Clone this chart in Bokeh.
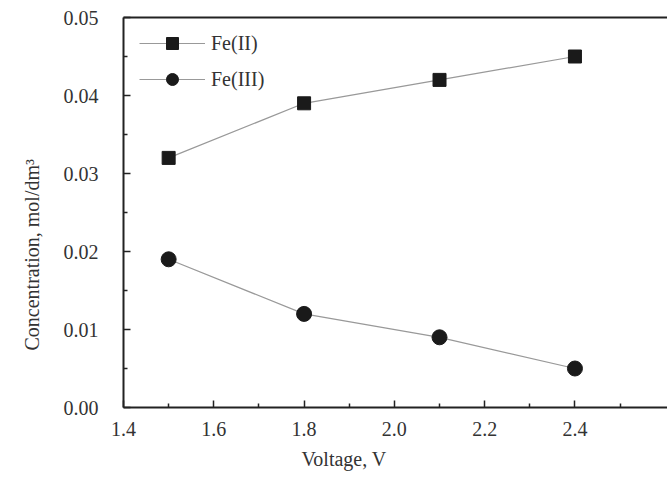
from bokeh.plotting import figure
from bokeh.models import Range1d, LinearAxis, FixedTicker, Legend, LegendItem, Title
from bokeh.embed import file_html
from bokeh.resources import INLINE

voltage = [1.5, 1.8, 2.1, 2.4]
fe2 = [0.032, 0.039, 0.042, 0.045]
fe3 = [0.019, 0.012, 0.009, 0.005]
x_ticks = [1.4, 1.6, 1.8, 2.0, 2.2, 2.4]
y_ticks = [0.00, 0.01, 0.02, 0.03, 0.04, 0.05]

FONT = "Liberation Serif"
AX = "#222222"
TXT = "#333333"

p = figure(width=667, height=477, output_backend="svg", toolbar_location=None,
           x_range=Range1d(1.4, 2.605), y_range=Range1d(0.0, 0.05),
           min_border_left=122, min_border_right=0, min_border_top=17, min_border_bottom=70)
p.outline_line_color = None
p.grid.visible = False
p.background_fill_color = "white"

for ax in (p.xaxis[0], p.yaxis[0]):
    ax.axis_line_color = AX
    ax.axis_line_width = 2
    ax.major_tick_line_color = AX
    ax.minor_tick_line_color = AX
    ax.major_tick_line_width = 1.5
    ax.minor_tick_line_width = 1.5
    ax.major_tick_in = 7
    ax.major_tick_out = 0
    ax.minor_tick_in = 4
    ax.minor_tick_out = 0
    ax.major_label_text_font = FONT
    ax.major_label_text_font_size = "20px"
    ax.major_label_text_color = TXT

p.xaxis.ticker = FixedTicker(ticks=x_ticks, minor_ticks=[1.5, 1.7, 1.9, 2.1, 2.3, 2.5])
p.yaxis.ticker = FixedTicker(ticks=y_ticks, minor_ticks=[0.005, 0.015, 0.025, 0.035, 0.045])
p.xaxis.major_label_overrides = {t: f"{t:.1f}" for t in x_ticks}
p.yaxis.major_label_overrides = {t: f"{t:.2f}" for t in y_ticks}
p.xaxis.major_label_standoff = 14
p.yaxis.major_label_standoff = 25

top = LinearAxis(ticker=FixedTicker(ticks=[]), axis_line_color=AX, axis_line_width=2,
                 major_tick_line_color=None, minor_tick_line_color=None,
                 major_label_text_font_size="0px")
p.add_layout(top, "above")

l1 = p.line(voltage, fe2, line_color="#999999", line_width=1.2)
m1 = p.scatter(voltage, fe2, marker="square", size=13, fill_color="#1a1a1a", line_color="#1a1a1a")
l2 = p.line(voltage, fe3, line_color="#999999", line_width=1.2)
m2 = p.scatter(voltage, fe3, marker="circle", size=15, fill_color="#1a1a1a", line_color="#1a1a1a")

legend = Legend(items=[LegendItem(label="Fe(II)", renderers=[l1, m1]),
                       LegendItem(label="Fe(III)", renderers=[l2, m2])],
                location=(16, 313), border_line_color=None, background_fill_alpha=0,
                label_text_font=FONT, label_text_font_size="20px", label_text_color=TXT,
                glyph_width=66, glyph_height=30, spacing=6, label_standoff=6,
                padding=8, margin=0)
p.add_layout(legend, "center")

xlab = Title(text="Voltage, V", align="left", offset=178, text_font=FONT,
             text_font_size="20px", text_color=TXT, text_font_style="normal", standoff=14)
ylab = Title(text="Concentration, mol/dm\u00b3", align="left", offset=57, text_font=FONT,
             text_font_size="20px", text_color=TXT, text_font_style="normal", standoff=36)
p.add_layout(xlab, "below")
p.add_layout(ylab, "left")

open("out.html", "w").write(file_html(p, INLINE))
